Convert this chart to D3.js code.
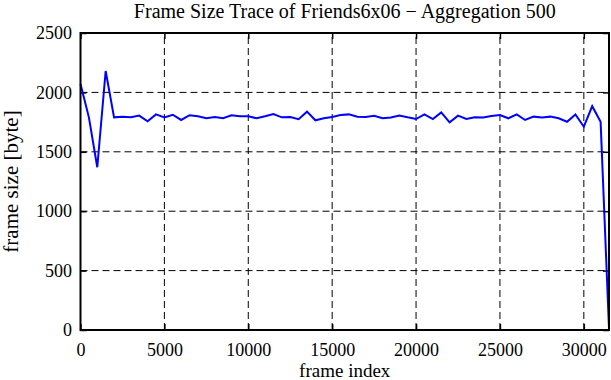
<!DOCTYPE html>
<html>
<head>
<meta charset="utf-8">
<script src="https://cdn.jsdelivr.net/npm/d3@7"></script>
<style>
  body { margin: 0; background: #fff; }
  svg text { font-family: "Liberation Serif", "DejaVu Serif", serif; fill: #000; }
</style>
</head>
<body>
<svg id="chart"></svg>
<script>
// frame sizes, one value every 500 frames
const frameIndex = [
  0, 500, 1000, 1500, 2000, 2500, 3000, 3500, 4000, 4500,
  5000, 5500, 6000, 6500, 7000, 7500, 8000, 8500, 9000, 9500,
  10000, 10500, 11000, 11500, 12000, 12500, 13000, 13500, 14000, 14500,
  15000, 15500, 16000, 16500, 17000, 17500, 18000, 18500, 19000, 19500,
  20000, 20500, 21000, 21500, 22000, 22500, 23000, 23500, 24000, 24500,
  25000, 25500, 26000, 26500, 27000, 27500, 28000, 28500, 29000, 29500,
  30000, 30500, 31000, 31500
];
const frameSize = [
  2070, 1790, 1370, 2180, 1790, 1795, 1790, 1805, 1757, 1815,
  1790, 1812, 1768, 1808, 1799, 1782, 1793, 1782, 1807, 1799,
  1799, 1782, 1799, 1818, 1790, 1793, 1775, 1838, 1765, 1782,
  1793, 1810, 1815, 1796, 1793, 1804, 1782, 1788, 1806, 1790,
  1776, 1815, 1776, 1832, 1748, 1804, 1776, 1790, 1788, 1801,
  1810, 1782, 1815, 1768, 1796, 1788, 1796, 1782, 1753, 1815,
  1711, 1884, 1752, 15
];
const xTicks = [0, 5000, 10000, 15000, 20000, 25000, 30000];
const yTicks = [0, 500, 1000, 1500, 2000, 2500];

const width = 611;
const height = 380;
const margin = { top: 33, right: 2, bottom: 50, left: 80.5 };

const svg = d3.select("#chart")
  .attr("width", width)
  .attr("height", height);

const x = d3.scaleLinear()
  .domain([0, 31500])
  .range([margin.left, width - margin.right]);

const y = d3.scaleLinear()
  .domain([0, 2500])
  .range([height - margin.bottom, margin.top]);

const plotW = width - margin.right - margin.left;
const plotH = height - margin.bottom - margin.top;
const serif = "'Liberation Serif', 'DejaVu Serif', serif";

// grid (dashed)
svg.append("g")
  .selectAll("line")
  .data(xTicks.slice(1))
  .join("line")
  .attr("x1", (d) => x(d)).attr("x2", (d) => x(d))
  .attr("y1", y(0)).attr("y2", y(2500))
  .attr("stroke", "#000")
  .attr("stroke-width", 1)
  .attr("stroke-dasharray", "7,4");

svg.append("g")
  .selectAll("line")
  .data(yTicks.slice(1, -1))
  .join("line")
  .attr("x1", x(0)).attr("x2", x(31500))
  .attr("y1", (d) => y(d)).attr("y2", (d) => y(d))
  .attr("stroke", "#000")
  .attr("stroke-width", 1)
  .attr("stroke-dasharray", "7,4");

// axes, ticks pointing inward
const fmt = d3.format("d");
const xAxis = svg.append("g")
  .attr("transform", `translate(0,${y(0)})`)
  .call(d3.axisBottom(x).tickValues(xTicks).tickFormat(fmt).tickSizeInner(-6).tickSizeOuter(0).tickPadding(13));
const yAxis = svg.append("g")
  .attr("transform", `translate(${x(0)},0)`)
  .call(d3.axisLeft(y).tickValues(yTicks).tickFormat(fmt).tickSizeInner(-6).tickSizeOuter(0).tickPadding(8.5));
// mirrored ticks on top and right
svg.append("g")
  .attr("transform", `translate(0,${y(2500)})`)
  .call(d3.axisTop(x).tickValues(xTicks).tickSizeInner(-6).tickSizeOuter(0).tickFormat(""));
svg.append("g")
  .attr("transform", `translate(${x(31500)},0)`)
  .call(d3.axisRight(y).tickValues(yTicks).tickSizeInner(-6).tickSizeOuter(0).tickFormat(""));

svg.selectAll(".domain").remove();
svg.selectAll(".tick line").attr("stroke", "#000").attr("stroke-width", 1.5);
xAxis.attr("font-family", serif).attr("font-size", 18);
yAxis.attr("font-family", serif).attr("font-size", 18);
svg.selectAll(".tick text").style("font-family", serif);
xAxis.selectAll("text").attr("dy", "0.71em");

// the trace
const line = d3.line()
  .x((d, i) => x(frameIndex[i]))
  .y((d) => y(d));

svg.append("path")
  .datum(frameSize)
  .attr("fill", "none")
  .attr("stroke", "#0000ff")
  .attr("stroke-width", 2)
  .attr("stroke-linejoin", "miter")
  .attr("d", line);

// frame
svg.append("rect")
  .attr("x", margin.left)
  .attr("y", margin.top)
  .attr("width", plotW)
  .attr("height", plotH)
  .attr("fill", "none")
  .attr("stroke", "#000")
  .attr("stroke-width", 2);

// labels
svg.append("text")
  .attr("x", (margin.left + width - margin.right) / 2)
  .attr("y", 18)
  .attr("text-anchor", "middle")
  .style("font-size", "20px")
  .text("Frame Size Trace of Friends6x06 \u2212 Aggregation 500");

svg.append("text")
  .attr("x", (margin.left + width - margin.right) / 2)
  .attr("y", 377)
  .attr("text-anchor", "middle")
  .style("font-size", "19px")
  .text("frame index");

svg.append("text")
  .attr("transform", `translate(18,${(margin.top + height - margin.bottom) / 2}) rotate(-90)`)
  .attr("text-anchor", "middle")
  .style("font-size", "21px")
  .text("frame size [byte]");
</script>
</body>
</html>
